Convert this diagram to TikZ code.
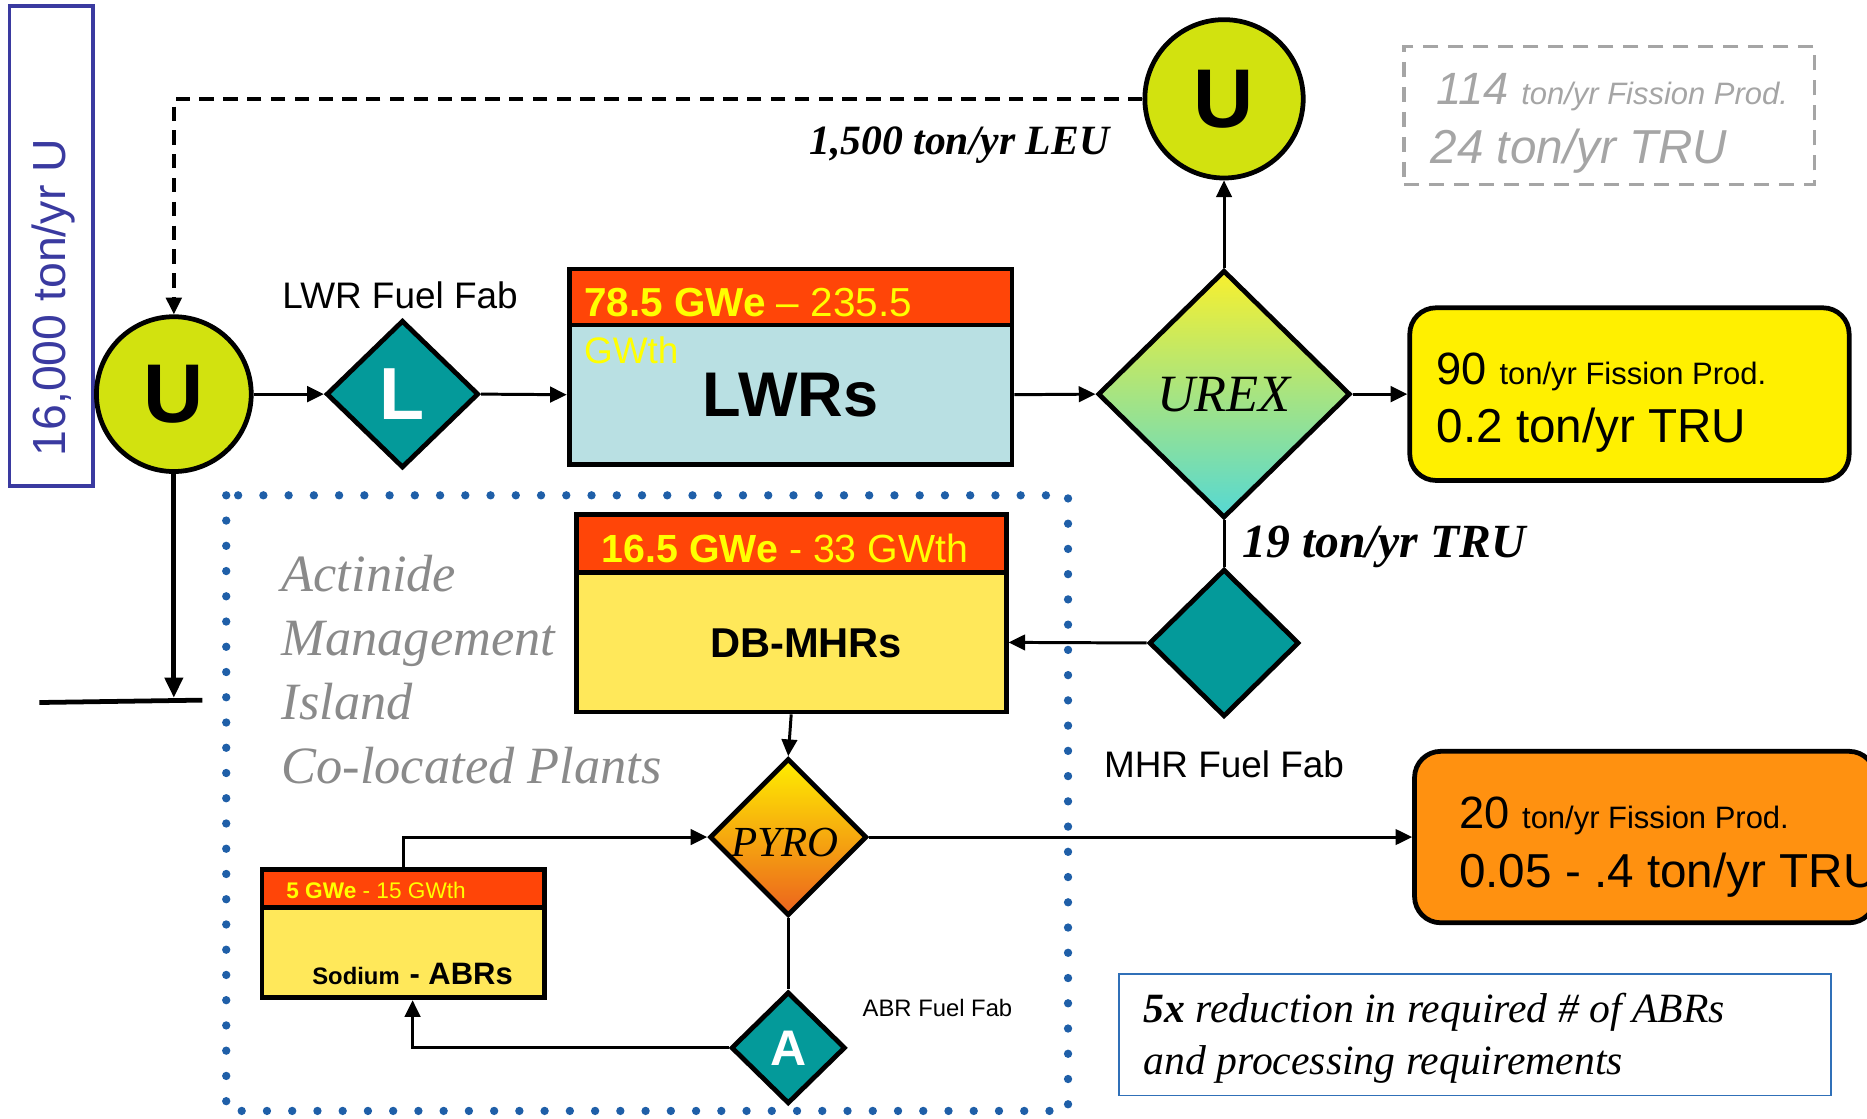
\documentclass[tikz,border=0pt]{standalone}
\usepackage{fontspec}
\setmainfont{Liberation Sans}
\newfontfamily\timesfont{Liberation Serif}
\usepackage{tikz}
\usetikzlibrary{
    calc,
    positioning,
    arrows.meta,
    shapes
}
\definecolor{uranium}{RGB}{210,226,15}
\definecolor{fabteal}{RGB}{4,154,154}
\definecolor{bandred}{RGB}{255,69,8}
\definecolor{bandtext}{RGB}{255,255,0}
\definecolor{lwrblue}{RGB}{185,224,227}
\definecolor{mhryellow}{RGB}{255,232,90}
\definecolor{fpyellow}{RGB}{255,240,0}
\definecolor{fporange}{RGB}{255,145,16}
\definecolor{urextop}{RGB}{248,240,46}
\definecolor{urexbottom}{RGB}{85,216,212}
\definecolor{pyrotop}{RGB}{255,238,0}
\definecolor{pyrobottom}{RGB}{236,98,30}
\definecolor{islandblue}{RGB}{31,95,168}
\definecolor{islandgray}{RGB}{138,138,138}
\definecolor{feedblue}{RGB}{58,58,160}
\definecolor{noteblue}{RGB}{48,112,184}
\definecolor{pastgray}{RGB}{165,165,165}
\newcommand{\fsz}[2]{\fontsize{#1}{#2}\selectfont}
\tikzset{
    line/.style = {
        line width = 2.5pt
    },
    arrow/.style = {
        line,
        -{Triangle[length=14pt, width=13pt]}
    },
    % Uranium stream:
    source node/.style = {
        circle,
        draw = black,
        line width = 4pt,
        fill = uranium,
        minimum size = 130pt,
        inner sep = 0pt,
        font = \fsz{70}{70}\bfseries
    },
    % Fuel fabrication:
    fab node/.style = {
        diamond,
        draw = black,
        line width = 4pt,
        fill = fabteal,
        inner sep = 0pt,
        text = white
    },
    % Power rating over a reactor:
    band node/.style = {
        rectangle,
        draw = black,
        line width = 4pt,
        fill = bandred,
        inner sep = 0pt,
        text = bandtext
    },
    % Reactor:
    reactor node/.style = {
        rectangle,
        draw = black,
        line width = 4pt,
        inner sep = 0pt
    },
    % Separation:
    process node/.style = {
        diamond,
        draw = black,
        line width = 4pt,
        inner sep = 0pt
    },
    % Waste stream:
    waste node/.style = {
        rectangle,
        rounded corners = 22pt,
        draw = black,
        line width = 4pt,
        inner sep = 0pt
    },
    % Recycled uranium:
    leu line/.style = {
        line width = 3pt,
        dash pattern = on 12pt off 8pt,
        -{Triangle[length=14pt, width=13pt]}
    },
    % Island:
    island/.style = {
        draw = islandblue,
        line width = 7pt,
        line cap = round,
        dash pattern = on 0pt off 21.2pt
    }
}

\begin{document}
\begin{tikzpicture}[x=1pt, y=-1pt]
    \path [use as bounding box] (0, 0) rectangle (1568, 939);
    \clip (0, 0) rectangle (1568, 939);
    % Feed.
    \node [draw=feedblue, line width=3pt, minimum width=70pt, minimum height=403pt] (feedbox) at (43, 206.5) {};
    \node [rotate=90, text=feedblue, font=\fsz{39}{39}] (feed) at (45, 250) {16,000 ton/yr U};
    \node [source node] (uleft) at (146, 331) {U};
    \node [source node, minimum size=133pt] (utop) at (1028, 83) {U};
    \node [anchor=base east, font=\fsz{35}{35}\timesfont\bfseries\itshape] (leu) at (935, 130) {1,500 ton/yr LEU};
    % LWR line.
    \node [fab node, minimum width=128pt, minimum height=124pt, font=\fsz{62}{62}\bfseries] (lfab) at (338, 331) {L};
    \node [anchor=base, font=\fsz{31}{31}] (lfabtext) at (336, 259) {LWR Fuel Fab};
    \node [band node, minimum width=372pt, minimum height=47pt] (lwrhead) at (664, 249.5) {};
    \node [anchor=base west, text=bandtext, font=\fsz{34}{34}] (lwrpower) at (487, 266) {\textbf{78.5 GWe} – 235.5};
    \node [reactor node, fill=lwrblue, minimum width=372pt, minimum height=117pt, font=\fsz{53}{53}\bfseries] (lwr) at (664, 331.5) {LWRs};
    \node [anchor=base west, text=bandtext, font=\fsz{31}{31}] (lwrunit) at (487, 305) {GWth};
    \node [process node, top color=urextop, bottom color=urexbottom, minimum width=212pt, minimum height=208pt, font=\fsz{44}{44}\timesfont\itshape] (urex) at (1028, 331) {UREX};
    % Waste streams.
    \node [draw=pastgray, line width=3pt, dash pattern=on 13pt off 8pt, minimum width=345pt, minimum height=116pt] (pastbox) at (1351.5, 97) {};
    \node [anchor=base west, text=pastgray, font=\fsz{38}{38}\itshape] (pasttop) at (1203, 88) {114 {\fsz{26}{26}ton/yr Fission Prod.}};
    \node [anchor=base west, text=pastgray, font=\fsz{40}{40}\itshape] (pastbot) at (1198, 137) {24 ton/yr TRU};
    \node [waste node, fill=fpyellow, minimum width=369pt, minimum height=145pt] (fpa) at (1368.5, 331) {};
    \node [anchor=base west, font=\fsz{38}{38}] (fpatop) at (1203, 323) {90 {\fsz{26}{26}ton/yr Fission Prod.}};
    \node [anchor=base west, font=\fsz{40}{40}] (fpabot) at (1203, 372) {0.2 ton/yr TRU};
    \node [waste node, fill=fporange, minimum width=387pt, minimum height=144pt] (fpb) at (1381.5, 703) {};
    \node [anchor=base west, font=\fsz{38}{38}] (fpbtop) at (1222, 696) {20 {\fsz{26}{26}ton/yr Fission Prod.}};
    \node [anchor=base west, font=\fsz{40}{40}] (fpbbot) at (1222, 745) {0.05 - .4 ton/yr TRU};
    % MHR line.
    \node [fab node, minimum width=126pt, minimum height=124pt] (mfab) at (1028, 540) {};
    \node [anchor=base, font=\fsz{31}{31}] (mfabtext) at (1028, 653) {MHR Fuel Fab};
    \node [anchor=base west, font=\fsz{40}{40}\timesfont\bfseries\itshape] (trumhr) at (1040, 468) {19 ton/yr TRU};
    \node [band node, minimum width=361pt, minimum height=49pt] (mhrhead) at (664.5, 456.5) {};
    \node [anchor=base west, text=bandtext, font=\fsz{33}{33}] (mhrpower) at (502, 472) {\textbf{16.5 GWe} - 33 GWth};
    \node [reactor node, fill=mhryellow, minimum width=361pt, minimum height=117pt] (mhr) at (664.5, 539.5) {};
    \node [font=\fsz{35}{35}\bfseries] (mhrtext) at (677, 540) {DB-MHRs};
    \node [process node, top color=pyrotop, bottom color=pyrobottom, minimum width=132pt, minimum height=132pt] (pyro) at (662, 703) {};
    \node [font=\fsz{36}{36}\timesfont\itshape] (pyrotext) at (659, 708) {PYRO};
    % ABR line.
    \node [band node, minimum width=237pt, minimum height=32pt] (abrhead) at (338.5, 746) {};
    \node [anchor=base west, text=bandtext, font=\fsz{19}{19}] (abrpower) at (237, 755) {\textbf{5 GWe} - 15 GWth};
    \node [reactor node, fill=mhryellow, minimum width=237pt, minimum height=76pt] (abr) at (338.5, 800) {};
    \node [anchor=base, font=\bfseries] (abrtext) at (346.5, 827) {{\fsz{20}{20}Sodium } {\fsz{26}{26}- ABRs}};
    \node [fab node, minimum width=96pt, minimum height=94pt, font=\fsz{42}{42}\bfseries] (afab) at (662, 880) {A};
    \node [anchor=base west, font=\fsz{20}{20}] (afabtext) at (721, 854) {ABR Fuel Fab};
    % Island.
    \draw [island] (190, 416) rectangle (897, 933);
    \foreach \txt [count=\i] in {Actinide, Management, Island, Co-located Plants}
        \node [anchor=base west, text=islandgray, font=\fsz{44}{44}\timesfont\itshape] (island\i) at (233, {497+53.7*(\i-1)}) {\txt};
    % Note.
    \node [draw=noteblue, line width=1.5pt, minimum width=598pt, minimum height=102pt] (note) at (1239, 869) {};
    \node [anchor=base west, font=\fsz{35}{35}\timesfont\itshape] (notetop) at (957, 859) {\textbf{5x} reduction in required \# of ABRs};
    \node [anchor=base west, font=\fsz{35}{35}\timesfont\itshape] (notebot) at (957, 902) {and processing requirements};
    % Flows.
    \draw [arrow] (uleft.east) -- (lfab.west);
    \draw [arrow] (lfab.east) -- (lwr.west);
    \draw [arrow] (lwr.east) -- (urex.west);
    \draw [arrow] (urex.east) -- (fpa.west);
    \draw [arrow] (urex.north) -- (utop.south);
    \draw [leu line] (utop.west) -| (uleft.north);
    \draw [line] (urex.south) -- (mfab.north);
    \draw [arrow] (mfab.west) -- (mhr.east);
    \draw [arrow] (mhr.south) -- (pyro.north);
    \draw [arrow] (pyro.east) -- (fpb.west);
    \draw [line] (pyro.south) -- (afab.north);
    \draw [arrow] (afab.west) -| ([xshift=8pt]abr.south);
    \draw [arrow] (abrhead.north) |- (pyro.west);
    \coordinate (stocktip) at (146, 586);
    \coordinate (stockleft) at (33, 590);
    \coordinate (stockright) at (170, 588);
    \draw [line width=4pt] (stockleft) -- (stockright);
    \draw [line width=4pt, -{Triangle[length=17pt, width=15pt]}] (uleft.south) -- (stocktip);
\end{tikzpicture}
\end{document}
